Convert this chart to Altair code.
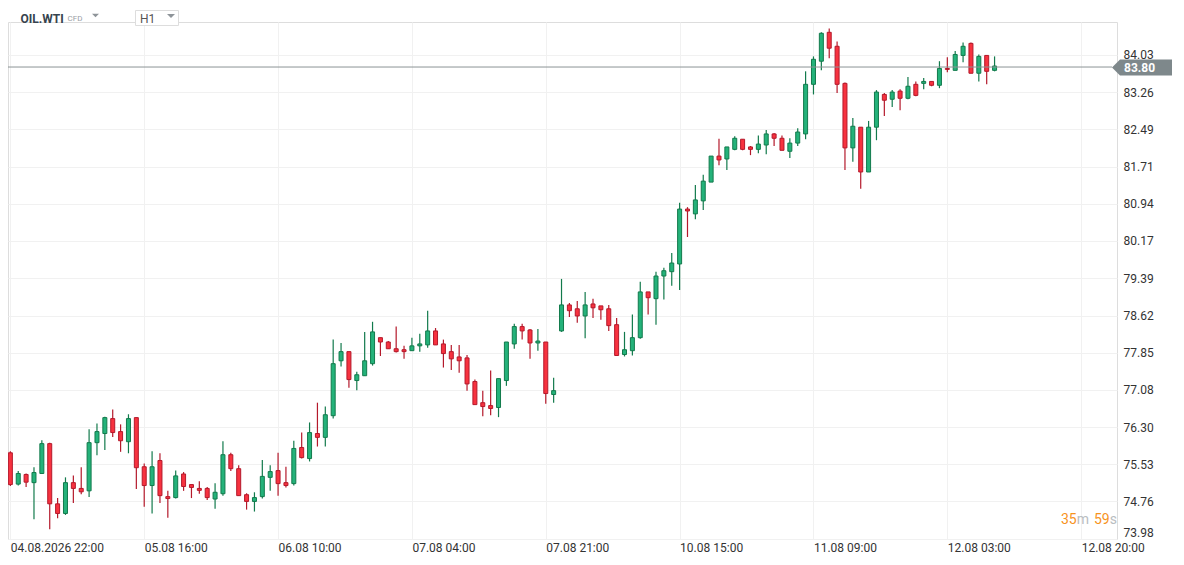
import altair as alt
import pandas as pd

# ---------------- data ----------------
opens = [75.77, 75.12, 75.32, 75.15, 75.34, 75.96, 74.71, 74.51, 75.15, 75.03,
         74.98, 75.98, 76.17, 76.48, 76.21, 76.00, 76.50, 75.48, 75.09, 75.61,
         74.86, 74.84, 75.33, 75.11, 75.03, 75.03, 74.81, 74.92, 75.73, 75.44,
         74.90, 74.76, 74.86, 75.26, 75.40, 75.15, 75.13, 75.88, 75.65, 76.17,
         76.09, 76.54, 77.68, 77.87, 77.27, 77.37, 77.62, 78.16, 78.07, 77.93,
         77.91, 77.89, 77.99, 78.01, 78.30, 78.03, 77.87, 77.76, 77.74, 77.25,
         76.81, 76.75, 76.71, 77.27, 78.03, 78.39, 78.32, 78.05, 78.07, 76.98,
         78.30, 78.84, 78.76, 78.61, 78.86, 78.82, 78.76, 78.43, 77.81, 77.89,
         78.16, 79.11, 78.97, 79.44, 79.53, 79.69, 80.83, 80.73, 81.00, 81.39,
         81.93, 81.87, 82.07, 82.28, 82.12, 82.07, 82.16, 82.39, 82.30, 82.03,
         82.20, 82.39, 83.42, 83.90, 84.50, 84.21, 83.44, 82.10, 82.53, 81.60,
         82.53, 83.21, 83.11, 83.28, 83.13, 83.42, 83.44, 83.48, 83.40, 83.75,
         83.71, 84.02, 84.27, 83.65, 84.02, 83.71]
highs = [75.80, 75.39, 75.34, 75.47, 76.03, 75.98, 74.83, 75.26, 75.30, 75.47,
         76.26, 76.38, 76.52, 76.67, 76.36, 76.57, 76.50, 75.55, 75.80, 75.76,
         74.98, 75.40, 75.37, 75.11, 75.18, 75.06, 75.14, 76.01, 75.77, 75.51,
         74.93, 74.95, 75.62, 75.51, 75.77, 75.48, 76.02, 76.19, 76.40, 76.81,
         76.73, 78.12, 78.05, 77.87, 77.45, 78.28, 78.49, 78.16, 78.09, 78.39,
         77.99, 78.16, 78.24, 78.72, 78.36, 78.12, 78.01, 78.01, 77.80, 77.29,
         77.06, 77.48, 77.31, 78.07, 78.45, 78.45, 78.34, 78.34, 78.07, 77.33,
         79.38, 78.88, 78.92, 79.11, 78.97, 78.82, 78.84, 78.57, 78.28, 78.64,
         79.32, 79.11, 79.53, 79.61, 79.92, 80.96, 80.87, 81.33, 81.54, 81.93,
         82.29, 82.12, 82.34, 82.28, 82.14, 82.36, 82.47, 82.41, 82.36, 82.30,
         82.51, 83.69, 84.00, 84.50, 84.58, 84.31, 83.46, 82.72, 82.53, 82.66,
         83.30, 83.24, 83.30, 83.32, 83.57, 83.48, 83.55, 83.48, 83.90, 83.98,
         84.11, 84.29, 84.29, 84.04, 84.02, 84.00]
lows = [75.08, 75.09, 75.06, 74.39, 75.33, 74.18, 74.41, 74.48, 74.73, 74.91,
        74.85, 75.72, 75.83, 76.10, 75.79, 75.76, 75.02, 74.65, 74.51, 74.73,
        74.42, 74.82, 74.98, 74.83, 74.92, 74.79, 74.61, 74.88, 75.39, 74.88,
        74.59, 74.55, 74.82, 74.98, 74.88, 75.05, 75.09, 75.65, 75.59, 75.90,
        75.90, 76.48, 77.56, 77.12, 77.07, 77.37, 77.58, 77.78, 77.93, 77.85,
        77.72, 77.89, 77.87, 77.95, 78.01, 77.54, 77.49, 77.43, 77.06, 76.77,
        76.53, 76.55, 76.51, 77.16, 77.93, 78.12, 77.72, 77.89, 76.79, 76.81,
        78.28, 78.59, 78.47, 78.15, 78.57, 78.53, 78.30, 77.79, 77.77, 77.79,
        78.14, 78.64, 78.43, 78.95, 79.24, 79.15, 80.25, 80.62, 80.81, 81.39,
        81.74, 81.64, 82.05, 82.05, 81.95, 81.99, 81.97, 82.14, 82.05, 81.89,
        82.14, 82.28, 83.21, 83.71, 83.96, 83.24, 81.64, 81.81, 81.25, 81.60,
        82.26, 82.76, 82.95, 82.88, 83.11, 83.17, 83.32, 83.38, 83.34, 83.67,
        83.71, 83.88, 83.65, 83.48, 83.42, 83.69]
closes = [75.11, 75.34, 75.16, 75.36, 75.96, 74.71, 74.51, 75.15, 75.03, 74.96,
          75.98, 76.21, 76.50, 76.19, 76.02, 76.48, 75.46, 75.09, 75.48, 74.88,
          74.82, 75.29, 75.07, 75.05, 74.99, 74.84, 74.95, 75.73, 75.44, 74.88,
          74.76, 74.84, 75.28, 75.38, 75.13, 75.09, 75.86, 75.67, 76.19, 76.09,
          76.56, 77.62, 77.87, 77.29, 77.39, 77.68, 78.28, 78.07, 77.93, 77.87,
          77.87, 77.99, 78.03, 78.30, 78.01, 77.83, 77.72, 77.68, 77.20, 76.77,
          76.73, 76.69, 77.31, 78.07, 78.39, 78.30, 78.05, 78.09, 77.00, 77.06,
          78.84, 78.72, 78.61, 78.84, 78.78, 78.74, 78.41, 77.79, 77.91, 78.16,
          79.11, 78.99, 79.44, 79.55, 79.71, 80.83, 80.79, 81.02, 81.41, 81.93,
          81.85, 82.12, 82.30, 82.07, 82.07, 82.18, 82.39, 82.30, 82.05, 82.20,
          82.43, 83.42, 83.94, 84.48, 84.17, 83.42, 82.10, 82.55, 81.60, 82.53,
          83.26, 83.09, 83.26, 83.13, 83.38, 83.19, 83.48, 83.40, 83.75, 83.73,
          84.04, 84.21, 83.65, 84.00, 83.69, 83.80]

x_tick_index = [0, 17, 34, 51, 68, 85, 102, 119, 136]
x_tick_labels = ["04.08.2026 22:00", "05.08 16:00", "06.08 10:00", "07.08 04:00",
                 "07.08 21:00", "10.08 15:00", "11.08 09:00", "12.08 03:00",
                 "12.08 20:00"]
price_ticks = [73.98, 74.76, 75.53, 76.30, 77.08, 77.85, 78.62, 79.39, 80.17,
               80.94, 81.71, 82.49, 83.26, 84.03]
last_price = [83.80]
last_price_label = ["83.80"]
symbol = ["OIL.WTI"]
symbol_type = ["CFD"]
interval = ["H1"]
countdown_num = ["35", "59"]
countdown_unit = ["m", "s"]

# ---------------- styling ----------------
FONT = "Roboto"
UP_FILL, UP_LINE = "#24b27a", "#127a4c"
DN_FILL, DN_LINE = "#f7323f", "#b4192b"
GRID = "#f1f1f1"
LABEL = "#333333"

df = pd.DataFrame({"i": list(range(len(opens))), "open": opens, "high": highs,
                   "low": lows, "close": closes})
df["dir"] = ["up" if c >= o else "down" for o, c in zip(opens, closes)]

xscale = alt.Scale(domain=[-0.3, 140.55], nice=False, zero=False, padding=0)
yscale = alt.Scale(domain=[73.98, 84.714], nice=False, zero=False, padding=0)

labels_js = "[" + ",".join("'" + s + "'" for s in x_tick_labels) + "]"
xaxis = alt.Axis(values=x_tick_index, labelExpr=f"{labels_js}[indexof({x_tick_index}, datum.value)]",
                 grid=True, gridColor=GRID, gridWidth=1, domain=False, ticks=False, tickSize=0,
                 labelAlign="left", labelBaseline="top", labelPadding=3, labelFont=FONT,
                 labelFontSize=12, labelColor=LABEL, labelOverlap=False, labelFlush=False,
                 title=None)
yaxis = alt.Axis(values=price_ticks, format=".2f", orient="right", grid=True, gridColor=GRID,
                 gridWidth=1, domain=False, ticks=False, tickSize=0, labelPadding=6,
                 labelAlign="left", labelFont=FONT, labelFontSize=12, labelColor=LABEL,
                 labelOverlap=False, labelFlush=1, title=None)

dir_line = alt.Scale(domain=["up", "down"], range=[UP_LINE, DN_LINE])
dir_fill = alt.Scale(domain=["up", "down"], range=[UP_FILL, DN_FILL])

wicks = alt.Chart(df).mark_rule(strokeWidth=1.2).encode(
    x=alt.X("i:Q", scale=xscale, axis=xaxis),
    y=alt.Y("low:Q", scale=yscale, axis=yaxis),
    y2="high:Q",
    color=alt.Color("dir:N", scale=dir_line, legend=None),
)

bodies = alt.Chart(df).mark_bar(size=4, strokeWidth=1).encode(
    x=alt.X("i:Q", scale=xscale, axis=xaxis),
    y=alt.Y("open:Q", scale=yscale, axis=yaxis),
    y2="close:Q",
    fill=alt.Fill("dir:N", scale=dir_fill, legend=None),
    stroke=alt.Stroke("dir:N", scale=dir_line, legend=None),
)

lp = pd.DataFrame({"p": last_price, "t": last_price_label})
price_line = alt.Chart(lp).mark_rule(color="#8b9396", strokeWidth=1, yOffset=1).encode(
    x=alt.value(0), x2=alt.value(1104),
    y=alt.Y("p:Q", scale=yscale, axis=yaxis),
)
price_tag = alt.Chart(lp).mark_point(
    shape="M-1,0L-0.733,-0.27L1,-0.27L1,0.27L-0.733,0.27Z",
    filled=True, opacity=1, size=3600, color="#7e888b", strokeWidth=0, yOffset=1.5,
).encode(x=alt.value(1134), y=alt.Y("p:Q", scale=yscale, axis=yaxis))
price_text = alt.Chart(lp).mark_text(
    align="left", baseline="middle", font=FONT, fontSize=12, fontWeight="bold", color="white",
    dy=2,
).encode(x=alt.value(1116), y=alt.Y("p:Q", scale=yscale, axis=yaxis), text="t:N")

# ---------------- header ----------------
sym = alt.Chart(pd.DataFrame({"t": symbol})).mark_text(
    align="left", baseline="alphabetic", font=FONT, fontSize=12, fontWeight="bold", color="#36434e"
).encode(x=alt.value(12.5), y=alt.value(0.5), text="t:N")
sym_type = alt.Chart(pd.DataFrame({"t": symbol_type})).mark_text(
    align="left", baseline="alphabetic", font=FONT, fontSize=8, color="#9aa0a6"
).encode(x=alt.value(59.5), y=alt.value(-0.8), text="t:N")
tri_path = "M-1,-0.5L1,-0.5L0,0.5Z"
sym_tri = alt.Chart(pd.DataFrame({"t": symbol})).mark_point(
    shape=tri_path, filled=True, opacity=1, size=49, color="#8e9499", strokeWidth=0
).encode(x=alt.value(87.5), y=alt.value(-6.5))
box = alt.Chart(pd.DataFrame({"t": interval})).mark_rect(
    fill="white", stroke="#dddddd", strokeWidth=1
).encode(x=alt.value(127.5), x2=alt.value(170.5), y=alt.value(-11.5), y2=alt.value(3.5))
box_text = alt.Chart(pd.DataFrame({"t": interval})).mark_text(
    align="left", baseline="middle", font=FONT, fontSize=12, color="#555555"
).encode(x=alt.value(132), y=alt.value(-3.5), text="t:N")
box_tri = alt.Chart(pd.DataFrame({"t": interval})).mark_point(
    shape=tri_path, filled=True, opacity=1, size=64, color="#8e9499", strokeWidth=0
).encode(x=alt.value(163), y=alt.value(-6))

# ---------------- countdown ----------------
cd_num = alt.Chart(pd.DataFrame({"t": countdown_num, "x": [1053, 1086]})).mark_text(
    align="left", baseline="middle", font=FONT, fontSize=14, color="#f7931d"
).encode(x=alt.X("x:Q", scale=None), y=alt.value(498), text="t:N")
cd_unit = alt.Chart(pd.DataFrame({"t": countdown_unit, "x": [1068.7, 1101.7]})).mark_text(
    align="left", baseline="middle", font=FONT, fontSize=14, color="#b9bdc1"
).encode(x=alt.X("x:Q", scale=None), y=alt.value(498), text="t:N")

chart = alt.layer(
    wicks, bodies, price_line, price_tag, price_text,
    box, sym, sym_type, sym_tri, box_text, box_tri, cd_num, cd_unit,
).properties(
    width=1109, height=517,
    padding={"left": 0, "top": 14, "right": 56, "bottom": 14},
    autosize=alt.AutoSizeParams(type="none"),
    background="white",
).configure_view(stroke=None).configure(font=FONT)

chart.save("out.html", embed_options={"renderer": "svg", "actions": False})
